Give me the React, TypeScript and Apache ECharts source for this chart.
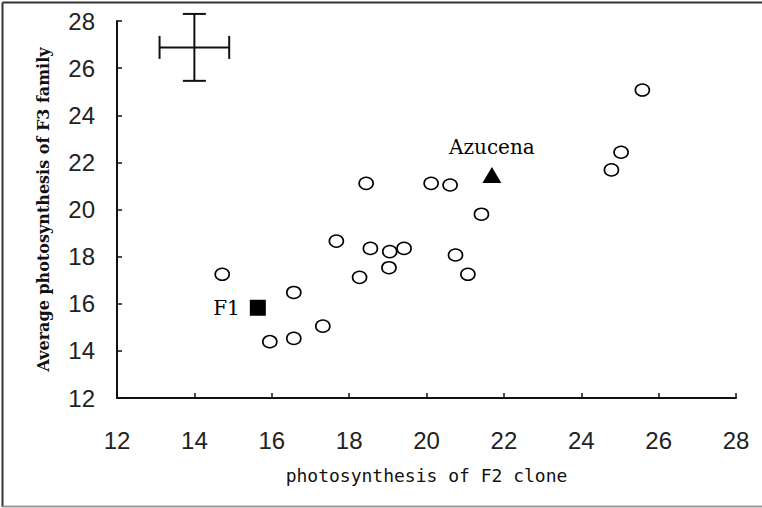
import React, { useEffect, useRef } from "react";
import * as echarts from "echarts";

const xTicks = [12, 14, 16, 18, 20, 22, 24, 26, 28];
const yTicks = [12, 14, 16, 18, 20, 22, 24, 26, 28];

// F2 clones: [photosynthesis of F2 clone, average photosynthesis of F3 family]
const cloneX = [18.44, 20.12, 20.61, 21.42, 17.67, 18.55, 19.05, 19.42, 20.75, 14.72, 18.27, 19.03, 21.07, 16.57, 17.32, 16.57, 15.95, 25.58, 25.03, 24.78];
const cloneY = [21.11, 21.11, 21.04, 19.8, 18.66, 18.35, 18.21, 18.35, 18.07, 17.25, 17.12, 17.53, 17.25, 16.48, 15.05, 14.53, 14.39, 25.07, 22.43, 21.68];

const f1Point = [15.64, 15.83];
const azucenaPoint = [21.69, 21.46];

// error-bar cross: [x, y, xErr, yErr]
const errorCross = [14.0, 26.88, 0.9, 1.42];

export default function App() {
  const ref = useRef<HTMLDivElement>(null);
  useEffect(() => {
    document.body.style.margin = "0";
    const chart = echarts.init(ref.current!, undefined, { renderer: "svg" });
    const cloneData = cloneX.map((x, i) => [x, cloneY[i]]);
    const axisCommon = {
      min: 12,
      max: 28,
      interval: 2,
      axisLine: { show: true, lineStyle: { color: "#111", width: 2 } },
      axisTick: { show: true, inside: true, length: 5, lineStyle: { color: "#111", width: 1.5 } },
      splitLine: { show: false },
    };
    chart.setOption({
      animation: false,
      backgroundColor: "#fff",
      grid: { left: 117, right: 26, top: 21, bottom: 110, containLabel: false },
      xAxis: {
        type: "value",
        ...axisCommon,
        axisLabel: {
          margin: 30,
          fontFamily: "Liberation Sans",
          fontSize: 24,
          color: "#222",
          formatter: (v: number) => (xTicks.includes(v) ? String(v) : ""),
        },
        name: "photosynthesis of F2 clone",
        nameLocation: "middle",
        nameGap: 68,
        nameTextStyle: { fontFamily: "DejaVu Sans Mono", fontSize: 18, color: "#111" },
      },
      yAxis: {
        type: "value",
        ...axisCommon,
        axisLabel: {
          margin: 22,
          fontFamily: "Liberation Sans",
          fontSize: 24,
          color: "#222",
          padding: [11, 0, 0, 0],
          formatter: (v: number) => (yTicks.includes(v) ? String(v) : ""),
        },
        name: "Average photosynthesis of F3 family",
        nameLocation: "middle",
        nameRotate: 90,
        nameGap: 66,
        nameTextStyle: { fontFamily: "DejaVu Serif", fontSize: 16, fontWeight: "bold", color: "#111" },
      },
      graphic: [
        { type: "line", shape: { x1: 2.5, y1: 2.5, x2: 762, y2: 2.5 }, style: { stroke: "#333", lineWidth: 2 } },
        { type: "line", shape: { x1: 2.5, y1: 2.5, x2: 2.5, y2: 507 }, style: { stroke: "#333", lineWidth: 2 } },
        { type: "line", shape: { x1: 2.5, y1: 506.5, x2: 762, y2: 506.5 }, style: { stroke: "#999", lineWidth: 2 } },
      ],
      series: [
        {
          type: "scatter",
          data: cloneData,
          symbol: "circle",
          symbolSize: [14, 12],
          itemStyle: { color: "#fff", borderColor: "#000", borderWidth: 1.6, opacity: 1 },
        },
        {
          type: "scatter",
          data: [f1Point],
          symbol: "rect",
          symbolSize: 16,
          itemStyle: { color: "#000", opacity: 1 },
          label: {
            show: true,
            position: "left",
            distance: 10,
            formatter: "F1",
            fontFamily: "DejaVu Serif",
            fontSize: 20,
            color: "#000",
          },
        },
        {
          type: "scatter",
          data: [azucenaPoint],
          symbol: "triangle",
          symbolSize: [19, 16],
          itemStyle: { color: "#000", opacity: 1 },
          label: {
            show: true,
            position: "top",
            distance: 10,
            formatter: "Azucena",
            fontFamily: "DejaVu Serif",
            fontSize: 20,
            color: "#000",
          },
        },
        {
          type: "custom",
          clip: false,
          data: [errorCross],
          renderItem: (params: any, api: any) => {
            const x = api.value(0), y = api.value(1), ex = api.value(2), ey = api.value(3);
            const c = api.coord([x, y]);
            const l = api.coord([x - ex, y]);
            const r = api.coord([x + ex, y]);
            const t = api.coord([x, y + ey]);
            const b = api.coord([x, y - ey]);
            const cap = 11.5;
            const st = { stroke: "#111", lineWidth: 2 };
            return {
              type: "group",
              children: [
                { type: "line", shape: { x1: l[0], y1: c[1], x2: r[0], y2: c[1] }, style: st },
                { type: "line", shape: { x1: c[0], y1: t[1], x2: c[0], y2: b[1] }, style: st },
                { type: "line", shape: { x1: l[0], y1: c[1] - cap, x2: l[0], y2: c[1] + cap }, style: st },
                { type: "line", shape: { x1: r[0], y1: c[1] - cap, x2: r[0], y2: c[1] + cap }, style: st },
                { type: "line", shape: { x1: c[0] - cap, y1: t[1], x2: c[0] + cap, y2: t[1] }, style: st },
                { type: "line", shape: { x1: c[0] - cap, y1: b[1], x2: c[0] + cap, y2: b[1] }, style: st },
              ],
            };
          },
        },
      ],
    });
    return () => chart.dispose();
  }, []);
  return <div ref={ref} style={{ position: "absolute", left: 0, top: 0, width: 762, height: 508 }} />;
}
